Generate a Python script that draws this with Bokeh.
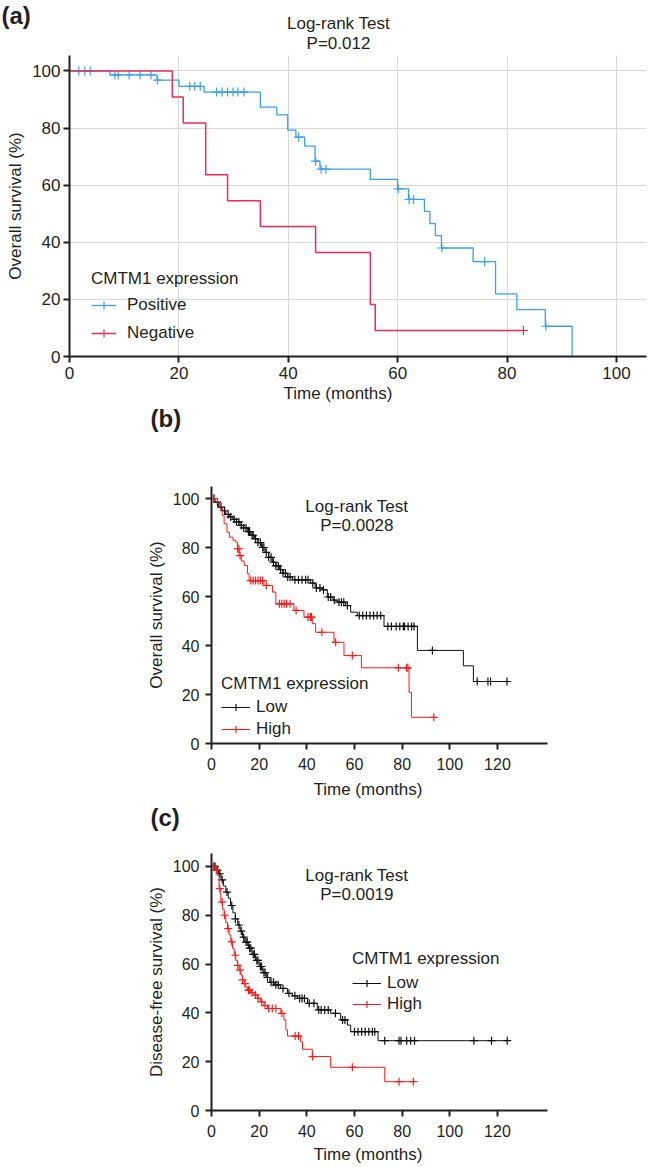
import numpy as np
from bokeh.plotting import figure
from bokeh.models import Legend, LegendItem, FixedTicker, Range1d, Title
from bokeh.core.properties import value
from bokeh.embed import file_html
from bokeh.resources import INLINE

FONT = "Liberation Sans"
INK = "#231f20"

# ---------------- (a) data ----------------
a_pos_t = [0, 7.4, 16, 20, 24.6, 34.9, 37.9, 39.9, 41.4, 43, 44.9, 45.8, 55, 60, 62,
           64.9, 65.9, 66.9, 68, 73.8, 77.9, 81.8, 87, 91.9]
a_pos_s = [100, 98.6, 96.8, 94.6, 92.6, 87.3, 84.6, 79.3, 76.8, 73.7, 68.4, 65.6, 62,
           58.7, 55, 50.8, 46.5, 42.3, 38, 33.2, 21.9, 16.4, 10.6, 0]
a_pos_c = [1.7, 2.8, 3.8, 8.3, 8.9, 10.9, 12.9, 14.9, 16.1, 22, 22.9, 23.9, 26.9, 27.9,
           28.9, 29.9, 30.8, 31.9, 41.9, 45.0, 46, 46.9, 60.1, 62.1, 62.9, 68.1, 75.9, 87.1]
a_neg_t = [0, 18.8, 20.8, 24.9, 28.9, 34.9, 45, 55, 55.9]
a_neg_s = [100, 90.9, 81.8, 63.6, 54.5, 45.5, 36.4, 18.2, 9.1]
a_neg_c = [83]

# ---------------- (b) data ----------------
b_low_t = [0, 1.5, 3, 4.5, 6, 7.5, 9, 10.5, 12, 13.5, 15, 16.5, 18, 19.5, 21, 22.5, 24,
           25.5, 27, 28.5, 30, 32, 34, 41.5, 43.5, 46.5, 48.6, 51, 52.8, 56.3, 58.4,
           61.2, 72.4, 86.4, 105.7, 109.9]
b_low_s = [100, 98.5, 96.5, 95, 93.5, 92.5, 91.5, 90.5, 89, 88, 86.5, 85, 83.5, 82, 80,
           78, 76, 74, 72.5, 71, 69.5, 68, 66.8, 65.5, 63.5, 62.7, 59.8, 58.5, 57.7,
           56.3, 53.6, 52.2, 47.8, 38, 31.7, 25.3]
b_low_c = [1, 2.5, 4, 5.5, 7, 8, 9.5, 10.5, 11.5, 12.5, 13.5, 14.5, 15.5, 16, 17, 17.5,
           18.5, 19.5, 20.5, 21.5, 22, 23, 24, 25, 26, 27, 28, 29, 30, 31, 32, 33, 35,
           36.5, 38, 39.5, 40.5, 42.5, 44, 45.5, 47, 49, 50, 51.5, 53.5, 54.5, 55.5, 57,
           62, 63.5, 65, 66.5, 68, 69.5, 71, 74, 75.5, 77.5, 79, 80.5, 81, 82.5, 84, 85,
           92.7, 111.5, 116, 117.1, 124]
b_high_t = [0, 2.5, 3.5, 4.5, 5.3, 6.5, 7.5, 9, 10.2, 10.9, 11.6, 12.5, 13.7, 15.1, 15.8,
            22, 25.6, 27, 34.6, 38.8, 42.3, 43.7, 51.4, 55.6, 62.9, 82.9, 83.9]
b_high_s = [100, 98, 96, 93.1, 89.7, 86.2, 84.2, 83, 82.2, 79.5, 76.7, 74.5, 72.7, 69.3,
            66.5, 64.5, 61.8, 57, 54.3, 51.6, 48.9, 45.4, 41.3, 35.9, 30.9, 20.9, 10.7]
b_high_c = [1, 11, 11.5, 12, 16.5, 17.5, 18.5, 19.5, 20.5, 21.5, 23, 28.5, 29.5, 30.5,
            31.5, 33, 35.5, 40.5, 41.5, 42, 46.3, 52.1, 59.1, 78.4, 81.9, 82.4, 93.3]

# ---------------- (c) data ----------------
c_low_t = [0, 2, 3, 4, 5, 6, 7, 8, 9, 10, 11, 12, 13, 14, 15.5, 17, 18.5, 20, 21.5, 23,
           24.5, 26.5, 29, 31.9, 34, 36.1, 40.3, 44.4, 50, 54.2, 57, 58.4, 69.9]
c_low_s = [100, 98.5, 97, 94.5, 92, 89.5, 87, 84, 81, 78.5, 76, 73.5, 71, 69, 66.5, 64,
           61.5, 59, 56.5, 54.5, 52.5, 51.5, 50, 48, 47, 45.9, 43.9, 41.2, 39.8, 37.1,
           35, 32.3, 28.6]
c_low_c = [1, 1.5, 2.5, 3.5, 4.5, 6.5, 8.5, 10, 11.5, 12.5, 13.5, 14.5, 15, 16, 16.5,
           17.5, 18, 19, 19.5, 20.5, 21, 22, 22.5, 23.5, 25, 26, 27, 28, 30, 32.5, 35,
           37, 38, 39, 41, 43, 45, 46, 47.5, 49, 52, 55, 56, 60, 61.5, 63, 64.5, 66,
           67.5, 68.5, 72.7, 78.7, 79.5, 81.9, 83.6, 85.2, 110.1, 117.5, 124.1]
c_high_t = [0, 1.8, 2.5, 3.2, 3.9, 4.6, 5.3, 6, 6.7, 7.4, 8.1, 8.8, 9.5, 10.2, 10.9,
            11.6, 12.3, 13, 13.7, 14.4, 15.1, 16.5, 17.9, 19.3, 20.7, 22, 23.5, 29.1,
            30.4, 31.2, 31.9, 37.4, 38.2, 42.3, 50, 72.7]
c_high_s = [100, 98.5, 96.3, 90.9, 85.4, 82.5, 80, 77, 74.5, 72, 69.1, 66.5, 63.6, 61.5,
            59.5, 57.5, 55.5, 53.5, 52, 50.5, 49.3, 48.3, 47.3, 46, 44.5, 43, 41.8, 39.8,
            37.1, 33, 30.5, 28.2, 25.1, 22.1, 17.7, 11.8]
c_high_c = [1, 2, 3.5, 4.5, 5.5, 7, 8.5, 10, 11, 12, 13, 14, 15.5, 16, 17, 18.5, 19.5,
            21, 22.5, 24, 25.5, 27, 29.5, 35.1, 36.5, 42.4, 59.1, 78.7, 84.7]

y_ticks = [0, 20, 40, 60, 80, 100]
a_x_ticks = [0, 20, 40, 60, 80, 100]
bc_x_ticks = [0, 20, 40, 60, 80, 100, 120]

W = 648


def header(h, texts):
    """texts: list of (x, y, text, size, align, bold) with y measured from the top."""
    p = figure(width=W, height=h, output_backend="svg", toolbar_location=None,
               x_range=Range1d(0, W), y_range=Range1d(h, 0),
               x_axis_type=None, y_axis_type=None,
               min_border_left=0, min_border_right=0, min_border_top=0, min_border_bottom=0)
    p.outline_line_color = None
    p.xgrid.visible = False
    p.ygrid.visible = False
    for (x, y, t, size, align, bold) in texts:
        p.text(x=[x], y=[y], text=[t], text_font=value(FONT), text_font_size=value(size),
               text_align=align, text_baseline="middle", text_color=INK,
               text_font_style="bold" if bold else "normal")
    return p


def base_fig(h, left, right, top, bottom, xr, yr, xticks, tick_font,
             xstand, ystand, xlabel, xlab_offset, xlab_standoff, ylabel, lab_stand_y):
    p = figure(width=W, height=h, output_backend="svg", toolbar_location=None,
               x_range=Range1d(*xr), y_range=Range1d(*yr),
               min_border_left=left, min_border_right=right,
               min_border_top=top, min_border_bottom=bottom)
    p.outline_line_color = None
    p.xaxis.ticker = FixedTicker(ticks=xticks)
    p.yaxis.ticker = FixedTicker(ticks=y_ticks)
    for ax in (p.xaxis[0], p.yaxis[0]):
        ax.axis_line_width = 2
        ax.axis_line_color = INK
        ax.major_tick_line_width = 2
        ax.major_tick_line_color = INK
        ax.major_tick_out = 6
        ax.major_tick_in = 0
        ax.minor_tick_line_color = None
        ax.major_label_text_font = FONT
        ax.major_label_text_font_size = tick_font
        ax.major_label_text_color = INK
        ax.axis_label_text_font = FONT
        ax.axis_label_text_font_size = "17px"
        ax.axis_label_text_font_style = "normal"
        ax.axis_label_text_color = INK
    p.xaxis.major_label_standoff = xstand
    p.yaxis.major_label_standoff = ystand
    p.yaxis.axis_label = ylabel
    p.yaxis.axis_label_standoff = lab_stand_y
    # x-axis title, placed below the axis and positioned along it
    p.add_layout(Title(text=xlabel, align="left", offset=xlab_offset,
                       standoff=xlab_standoff, text_font=FONT, text_font_size="17px",
                       text_font_style="normal", text_color=INK), "below")
    p.xgrid.visible = False
    p.ygrid.visible = False
    return p


def km(p, t, s, cens, color, lw, msize):
    t = list(t); s = list(s)
    end = max(t[-1], max(cens))
    xs = t + ([end] if end > t[-1] else [])
    ys = s + ([s[-1]] if end > t[-1] else [])
    line = p.step(xs, ys, mode="after", line_color=color, line_width=lw)
    idx = np.searchsorted(np.array(t), np.array(cens), side="right") - 1
    cy = [s[i] for i in idx]
    mk = p.scatter(cens, cy, marker="cross", size=msize, line_color=color, line_width=1.2)
    return line, mk


def legend(p, items, loc, gw, gh, sp, lstand, tstand):
    lg = Legend(items=items, location=loc, title="CMTM1 expression",
                title_text_font=FONT, title_text_font_size="17px",
                title_text_font_style="normal", title_text_color=INK,
                title_standoff=tstand,
                label_text_font=FONT, label_text_font_size="17px", label_text_color=INK,
                glyph_width=gw, glyph_height=gh, label_height=gh, spacing=sp,
                label_standoff=lstand, padding=0, margin=0,
                border_line_color=None, background_fill_alpha=0)
    p.add_layout(lg)


# ================= (a) =================
BLUE = "#3a9ff0"
RED_A = "#ee2b55"
ha = header(55, [(1, 15, "(a)", "24px", "left", True),
                 (338, 23, "Log-rank Test", "17px", "center", False),
                 (338, 43, "P=0.012", "17px", "center", False)])
pa = base_fig(350, 69, 2, 0, 49, (0, 105.5), (0, 105.4), a_x_ticks, "17px", 4, 3,
              "Time (months)", 214, 0, "Overall survival (%)", 4)
pa.xgrid.visible = True
pa.ygrid.visible = True
pa.xgrid.ticker = FixedTicker(ticks=[20, 40, 60, 80, 100])
pa.ygrid.ticker = FixedTicker(ticks=[20, 40, 60, 80, 100])
pa.xgrid.grid_line_color = "#d8d8d8"
pa.ygrid.grid_line_color = "#d8d8d8"
l1, m1 = km(pa, a_pos_t, a_pos_s, a_pos_c, BLUE, 1.3, 9)
l2, m2 = km(pa, a_neg_t, a_neg_s, a_neg_c, RED_A, 1.5, 9)
legend(pa, [LegendItem(label="Positive", renderers=[l1, m1]),
            LegendItem(label="Negative", renderers=[l2, m2])],
       (22, 13), 25, 20, 8, 11, 6)

# ================= (b) =================
BLACK = "#111111"
RED = "#ff1a1a"
hb = header(61, [(150, 13, "(b)", "24px", "left", True)])
pb = base_fig(337, 211, 101, 20, 60, (0, 141), (0, 104.9), bc_x_ticks, "16px", 8, 6,
              "Time (months)", 102, 10, "Overall survival (%)", 4)
l3, m3 = km(pb, b_low_t, b_low_s, b_low_c, BLACK, 1.0, 8)
l4, m4 = km(pb, b_high_t, b_high_s, b_high_c, RED, 1.0, 8)
legend(pb, [LegendItem(label="Low", renderers=[l3, m3]),
            LegendItem(label="High", renderers=[l4, m4])],
       (10, 4), 29, 18, 2, 6, 3)
pb.text(x=[61], y=[96.7], text=["Log-rank Test"], text_font=value(FONT),
        text_font_size=value("17px"), text_align="center", text_baseline="middle", text_color=INK)
pb.text(x=[61], y=[89], text=["P=0.0028"], text_font=value(FONT),
        text_font_size=value("17px"), text_align="center", text_baseline="middle", text_color=INK)

# ================= (c) =================
hc = header(40, [(150, 14, "(c)", "24px", "left", True)])
pc = base_fig(323, 211, 101, 10, 55, (0, 141), (0, 105.3), bc_x_ticks, "16px", 8, 6,
              "Time (months)", 102, 6, "Disease-free survival (%)", 4)
l5, m5 = km(pc, c_low_t, c_low_s, c_low_c, BLACK, 1.0, 8)
l6, m6 = km(pc, c_high_t, c_high_s, c_high_c, RED, 1.0, 8)
legend(pc, [LegendItem(label="Low", renderers=[l5, m5]),
            LegendItem(label="High", renderers=[l6, m6])],
       (141, 96), 29, 18, 1, 6, 4)
pc.text(x=[61], y=[96.3], text=["Log-rank Test"], text_font=value(FONT),
        text_font_size=value("17px"), text_align="center", text_baseline="middle", text_color=INK)
pc.text(x=[61], y=[88.6], text=["P=0.0019"], text_font=value(FONT),
        text_font_size=value("17px"), text_align="center", text_baseline="middle", text_color=INK)

open("out.html", "w").write(file_html([ha, pa, hb, pb, hc, pc], INLINE))
